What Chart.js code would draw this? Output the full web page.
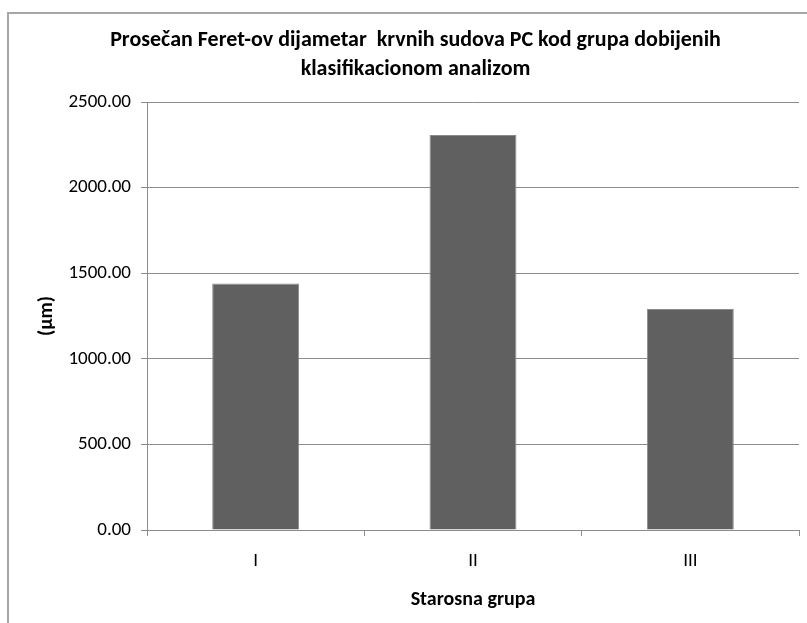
<!DOCTYPE html>
<html>
<head>
<meta charset="utf-8">
<script src="https://cdn.jsdelivr.net/npm/chart.js@4/dist/chart.umd.min.js"></script>
<style>
  body { margin: 0; background: #fff; overflow: hidden; }
  #wrap { position: relative; width: 807px; height: 623px; }
  #frame { position: absolute; left: 7px; top: 12px; width: 820px; height: 640px;
           border-left: 2px solid #a6a6a6; border-top: 2px solid #a6a6a6; box-sizing: border-box; }
  canvas { position: absolute; left: 0; top: 0; }
</style>
</head>
<body>
<div id="wrap">
  <div id="frame"></div>
  <canvas id="myChart" width="807" height="623"></canvas>
</div>
<script>
  // chart data
  const groups = ['I', 'II', 'III'];
  const feretValues = [1440, 2307, 1291];
  const chartTitle = ['Prosečan Feret-ov dijametar  krvnih sudova PC kod grupa dobijenih', 'klasifikacionom analizom'];
  const xTitle = 'Starosna grupa';
  const yTitle = '(µm)';

  const fontFam = 'Carlito, "Liberation Sans Narrow", "DejaVu Sans Condensed", sans-serif';

  function createChart() {
    const ctx = document.getElementById('myChart').getContext('2d');
    new Chart(ctx, {
      type: 'bar',
      data: {
        labels: groups,
        datasets: [{
          data: feretValues,
          backgroundColor: '#606060',
          borderColor: '#8a8a8a',
          borderWidth: 1,
          barPercentage: 0.4,
          categoryPercentage: 1.0
        }]
      },
      options: {
        responsive: false,
        animation: false,
        layout: { padding: { left: 32, right: 8, top: 0, bottom: 0 } },
        plugins: {
          legend: { display: false },
          tooltip: { enabled: false },
          title: {
            display: true,
            text: chartTitle,
            color: '#000',
            font: { family: fontFam, size: 22, weight: 'bold', lineHeight: 1.32 },
            padding: { top: 26, bottom: 18 }
          }
        },
        scales: {
          x: {
            afterFit: function(scale) { scale.height = 93; },
            grid: { offset: true, drawOnChartArea: false, drawTicks: true, tickLength: 6, color: '#8c8c8c' },
            border: { color: '#8c8c8c', width: 1 },
            ticks: { color: '#000', font: { family: fontFam, size: 19 }, padding: 14 },
            title: {
              display: true,
              text: xTitle,
              color: '#000',
              font: { family: fontFam, size: 20, weight: 'bold' },
              padding: { top: 0, bottom: 11 }
            }
          },
          y: {
            min: 0,
            max: 2500,
            afterFit: function(scale) { scale.width = 115; },
            grid: { color: '#8c8c8c', tickLength: 6 },
            border: { color: '#8c8c8c', width: 1 },
            ticks: {
              stepSize: 500,
              color: '#000',
              font: { family: fontFam, size: 19 },
              padding: 10,
              callback: function(v) { return v.toFixed(2); }
            },
            title: {
              display: true,
              text: yTitle,
              color: '#000',
              font: { family: fontFam, size: 20, weight: 'bold' },
              padding: { top: 3, bottom: 0 }
            }
          }
        }
      }
    });
  }

  window.onload = function() {
    createChart();
  };
</script>
</body>
</html>
